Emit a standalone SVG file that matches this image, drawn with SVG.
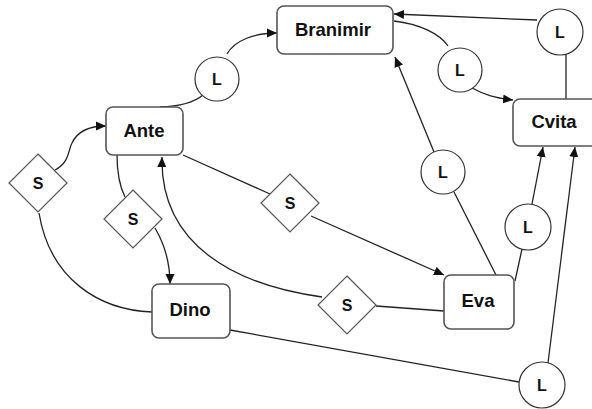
<svg xmlns="http://www.w3.org/2000/svg" width="592" height="409" viewBox="0 0 592 409">
<style>
.box{fill:#fff;stroke:#555;stroke-width:1.6}
.circ{fill:#fff;stroke:#333;stroke-width:1.2}
.dia{fill:#fff;stroke:#555;stroke-width:1.2}
.e{fill:none;stroke:#222;stroke-width:1.3}
.ea{fill:none;stroke:#222;stroke-width:1.3;marker-end:url(#arr)}
.t{font-family:"Liberation Sans",Arial,sans-serif;font-weight:bold;font-size:18.5px;fill:#111;text-anchor:middle}
.s{font-family:"Liberation Sans",Arial,sans-serif;font-weight:bold;font-size:16px;fill:#111;text-anchor:middle}
</style>
<defs>
<marker id="arr" viewBox="0 0 10 10" refX="10" refY="5" markerWidth="10" markerHeight="10" markerUnits="userSpaceOnUse" orient="auto">
<path d="M0,0.5 L10,5 L0,9.5 Z" fill="#111"/>
</marker>
</defs>
<rect width="592" height="409" fill="#fff"/>
<g id="connectors">
<path class="e" d="M160,107 Q190,106 203,95"/>
<path class="ea" d="M227,54 C235,40 255,33 277,33"/>
<path class="ea" d="M55,170 C70,162 68,150 72,143 C78,130 90,126 106,126"/>
<path class="e" d="M117,155 C117,175 120,187 125,197"/>
<path class="ea" d="M155,228 C165,245 170,262 170,284"/>
<path class="e" d="M39,213 C50,280 100,310 152,312"/>
<path class="ea" d="M322,297 C235,285 160,245 162,157"/>
<path class="e" d="M376,306 L444,311"/>
<path class="e" d="M183,155 L270,194"/>
<path class="ea" d="M311,216 L444,275"/>
<path class="e" d="M496,275 L454,192"/>
<path class="ea" d="M434,152 L395,57"/>
<path class="e" d="M515,281 L522,249"/>
<path class="ea" d="M532,204 L543,147"/>
<path class="e" d="M230,330 L519,382"/>
<path class="ea" d="M548,363 L575,147"/>
<path class="e" d="M566,99 L566,54"/>
<path class="ea" d="M537,20 L394,14"/>
<path class="e" d="M394,21 C420,24 440,34 448,46"/>
<path class="ea" d="M472,88 C485,95 495,98 513,100"/>
</g>
<g id="Branimir"><rect class="box" x="277" y="6" width="116" height="48" rx="7"/><text class="t" x="333" y="36">Branimir</text></g>
<g id="Ante"><rect class="box" x="106" y="107" width="77" height="48" rx="7"/><text class="t" x="144" y="137">Ante</text></g>
<g id="Cvita"><rect class="box" x="513" y="99" width="86" height="47" rx="7"/><text class="t" x="554" y="128">Cvita</text></g>
<g id="Dino"><rect class="box" x="152" y="284" width="78" height="54" rx="7"/><text class="t" x="190" y="316">Dino</text></g>
<g id="Eva"><rect class="box" x="444" y="275" width="70" height="54" rx="7"/><text class="t" x="478" y="307">Eva</text></g>
<g id="L1"><circle class="circ" cx="217" cy="79" r="22"/><text class="s" x="217" y="85">L</text></g>
<g id="L2"><circle class="circ" cx="460" cy="70" r="22"/><text class="s" x="460" y="76">L</text></g>
<g id="L3"><circle class="circ" cx="560" cy="32" r="23"/><text class="s" x="560" y="38">L</text></g>
<g id="L4"><circle class="circ" cx="443" cy="172" r="22"/><text class="s" x="443" y="178">L</text></g>
<g id="L5"><circle class="circ" cx="528" cy="227" r="23"/><text class="s" x="528" y="233">L</text></g>
<g id="L6"><circle class="circ" cx="542" cy="385" r="23"/><text class="s" x="542" y="391">L</text></g>
<g id="S1"><path class="dia" d="M38,154 L67,183 L38,212 L9,183 Z"/><text class="s" x="38" y="189">S</text></g>
<g id="S2"><path class="dia" d="M133,190 L162,219 L133,248 L104,219 Z"/><text class="s" x="133" y="225">S</text></g>
<g id="S3"><path class="dia" d="M290,174 L319,203 L290,232 L261,203 Z"/><text class="s" x="290" y="209">S</text></g>
<g id="S4"><path class="dia" d="M347,276 L376,305 L347,334 L318,305 Z"/><text class="s" x="347" y="311">S</text></g>
</svg>
